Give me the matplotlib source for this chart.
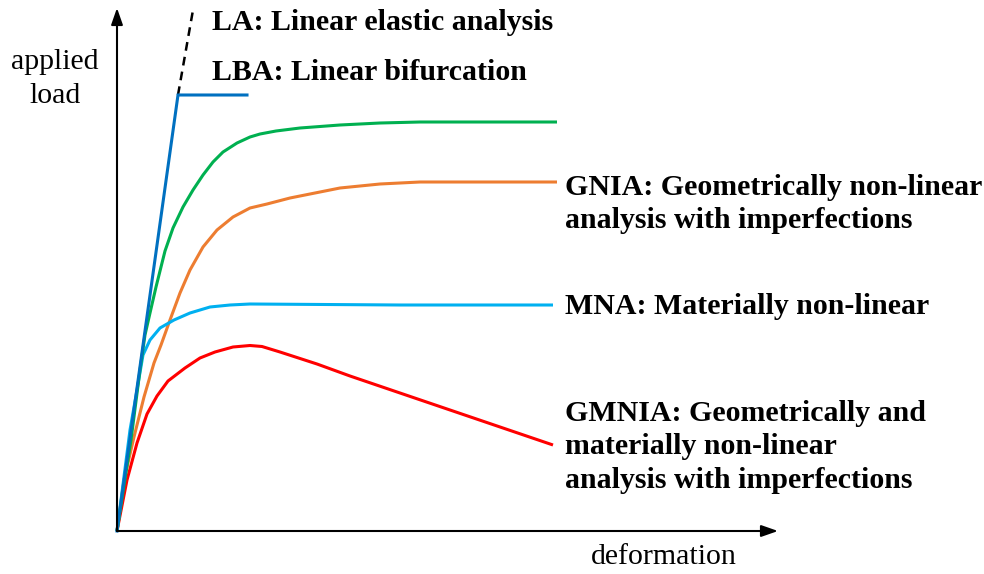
import numpy as np
import matplotlib
matplotlib.use('Agg')
import matplotlib.pyplot as plt

# Curve data (deformation, applied load)
la_x = [61, 76]
la_y = [436, 521]

lba_x = [0, 61, 130]
lba_y = [0, 436, 436]

green_x = [0, 14, 23, 28, 33, 39, 48, 56, 66, 76, 86, 96, 106, 120, 133, 143, 159, 183, 223, 263, 303, 440]
green_y = [0, 91, 161, 196, 218, 244, 280, 303, 324, 341, 356, 369, 379, 388, 394, 397, 400, 403, 406, 408, 409, 409]

orange_x = [0, 7, 17, 27, 37, 44, 53, 63, 73, 86, 100, 116, 133, 150, 173, 223, 263, 303, 440]
orange_y = [0, 51, 94, 134, 168, 186, 211, 238, 261, 284, 301, 314, 323, 327, 333, 343, 347, 349, 349]

cyan_x = [0, 13, 20, 26, 33, 43, 57, 73, 93, 113, 133, 283, 436]
cyan_y = [0, 101, 141, 176, 191, 203, 211, 218, 224, 226, 227, 226, 226]

red_x = [0, 10, 20, 30, 40, 51, 68, 83, 98, 116, 133, 145, 163, 200, 233, 283, 436]
red_y = [0, 51, 88, 117, 135, 150, 163, 173, 179, 184, 185.5, 184.5, 179, 167, 155, 138, 86]

fig = plt.figure(figsize=(9.84, 5.74), dpi=100)
ax = fig.add_axes([0, 0, 1, 1])
ax.set_xlim(-117, 867)
ax.set_ylim(-43, 531)
ax.axis('off')

# axes with arrows
arrow = dict(arrowstyle='-|>,head_length=1.0,head_width=0.35', color='black', lw=1.5,
             shrinkA=0, shrinkB=0)
ax.annotate('', xy=(0, 523), xytext=(0, 0), arrowprops=arrow)
ax.annotate('', xy=(661, 0), xytext=(0, 0), arrowprops=arrow)

lw = 2.2
style = dict(lw=lw, solid_joinstyle='round', solid_capstyle='butt')
ax.plot(la_x, la_y, color='black', lw=1.8, ls=(0, (3.5, 2.5)))
ax.plot(red_x, red_y, color='#ff0000', **style)
ax.plot(orange_x, orange_y, color='#ed7d31', **style)
ax.plot(cyan_x, cyan_y, color='#00b0f0', **style)
ax.plot(green_x, green_y, color='#00b050', **style)
ax.plot(lba_x, lba_y, color='#0070c0', lw=lw, solid_joinstyle='miter')

serif = 'Liberation Serif'
bold = dict(family=serif, fontsize=21.5, fontweight='bold', ha='left', va='center',
            linespacing=1.33)
ax.text(95, 509, 'LA: Linear elastic analysis', **bold)
ax.text(95, 458, 'LBA: Linear bifurcation', **bold)
ax.text(448, 327, 'GNIA: Geometrically non-linear\nanalysis with imperfections', **bold)
ax.text(448, 224, 'MNA: Materially non-linear', **bold)
ax.text(448, 84, 'GMNIA: Geometrically and\nmaterially non-linear\nanalysis with imperfections', **bold)

ax.text(-62, 452, 'applied\nload', family=serif, fontsize=21.5, ha='center', va='center',
        linespacing=1.4)
ax.text(547, -26, 'deformation', family=serif, fontsize=21.5, ha='center', va='center')

fig.savefig('out.png', dpi=100)
